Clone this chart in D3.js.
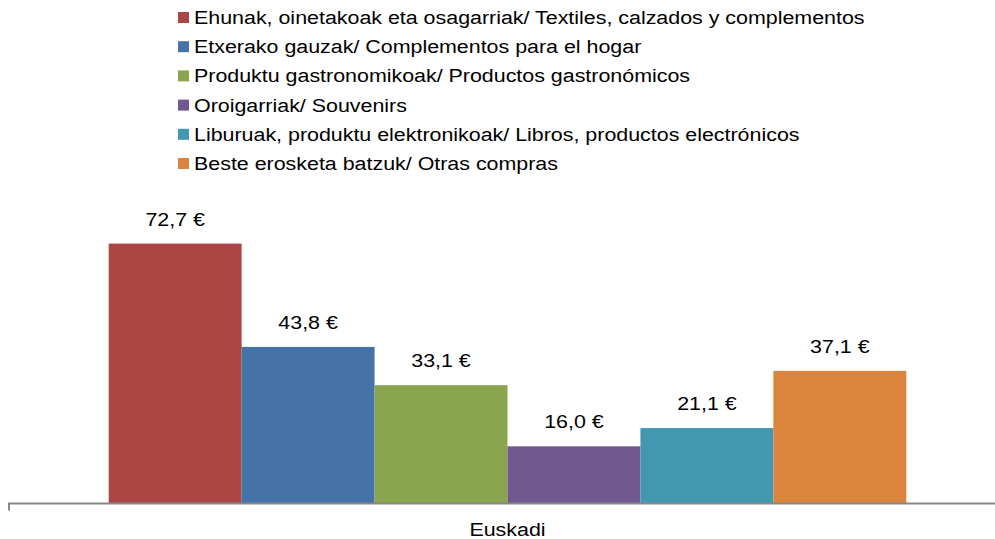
<!DOCTYPE html>
<html>
<head>
<meta charset="utf-8">
<script src="https://cdn.jsdelivr.net/npm/d3@7"></script>
<style>
  body { margin: 0; background: #fff; }
  svg { font-family: "Liberation Sans", Arial, sans-serif; display: block; }
</style>
</head>
<body>
<div id="grafikoa"></div>
<script>
const kategoriak = ["Euskadi"];
const serieak = [
  "Ehunak, oinetakoak eta osagarriak/ Textiles, calzados y complementos",
  "Etxerako gauzak/ Complementos para el hogar",
  "Produktu gastronomikoak/ Productos gastronómicos",
  "Oroigarriak/ Souvenirs",
  "Liburuak, produktu elektronikoak/ Libros, productos electrónicos",
  "Beste erosketa batzuk/ Otras compras"
];
const balioak = [72.7, 43.8, 33.1, 16.0, 21.1, 37.1];
const koloreak = ["#AA4643", "#4572A7", "#89A54E", "#71588F", "#4198AF", "#DB843D"];

const zabalera = 995, altuera = 539;
const behea = 503.5;
const luzatu = 1.19; // testua horizontalki zabalagoa da

const svg = d3.select("#grafikoa")
  .append("svg")
  .attr("width", zabalera)
  .attr("height", altuera);

// Eskalak
const x0 = d3.scaleBand()
  .domain(kategoriak)
  .range([9, 1006])
  .paddingInner(0)
  .paddingOuter(0.125);

const x1 = d3.scaleBand()
  .domain(serieak)
  .range([0, x0.bandwidth()]);

const y = d3.scaleLinear()
  .domain([0, 80])
  .range([behea, behea - 286]);

const zenbakia = d3.formatLocale({ decimal: ",", thousands: ".", grouping: [3], currency: ["", " €"] }).format(".1f");

// Barrak
const taldea = svg.append("g")
  .selectAll("g")
  .data(kategoriak)
  .join("g")
  .attr("transform", d => `translate(${x0(d)},0)`);

const datuak = serieak.map((s, i) => ({ serie: s, balioa: balioak[i], kolorea: koloreak[i] }));

taldea.selectAll("rect")
  .data(datuak)
  .join("rect")
  .attr("x", d => x1(d.serie))
  .attr("y", d => y(d.balioa))
  .attr("width", x1.bandwidth())
  .attr("height", d => y(0) - y(d.balioa))
  .attr("fill", d => d.kolorea);

taldea.selectAll("text.balioa")
  .data(datuak)
  .join("text")
  .attr("class", "balioa")
  .attr("transform", d => `translate(${x1(d.serie) + x1.bandwidth() / 2},${y(d.balioa) - 18}) scale(${luzatu},1)`)
  .attr("text-anchor", "middle")
  .style("font-size", "18px")
  .attr("fill", "#000")
  .text(d => zenbakia(d.balioa) + " €");

// Ardatza
svg.append("path")
  .attr("d", `M${x0.range()[0]},${behea + 7}V${behea}H${zabalera}`)
  .attr("fill", "none")
  .attr("stroke", "#878787")
  .attr("stroke-width", 2);

svg.append("g")
  .selectAll("text")
  .data(kategoriak)
  .join("text")
  .attr("transform", d => `translate(${x0(d) + x0.bandwidth() / 2},536) scale(${luzatu},1)`)
  .attr("text-anchor", "middle")
  .style("font-size", "18px")
  .text(d => d);

// Legenda
const legenda = svg.append("g")
  .attr("transform", "translate(178,12)")
  .selectAll("g")
  .data(datuak)
  .join("g")
  .attr("transform", (d, i) => `translate(0,${i * 29.2})`);

legenda.append("rect")
  .attr("width", 11)
  .attr("height", 11)
  .attr("fill", d => d.kolorea);

legenda.append("text")
  .attr("transform", `translate(16,12) scale(${luzatu},1)`)
  .style("font-size", "18px")
  .text(d => d.serie);
</script>
</body>
</html>
